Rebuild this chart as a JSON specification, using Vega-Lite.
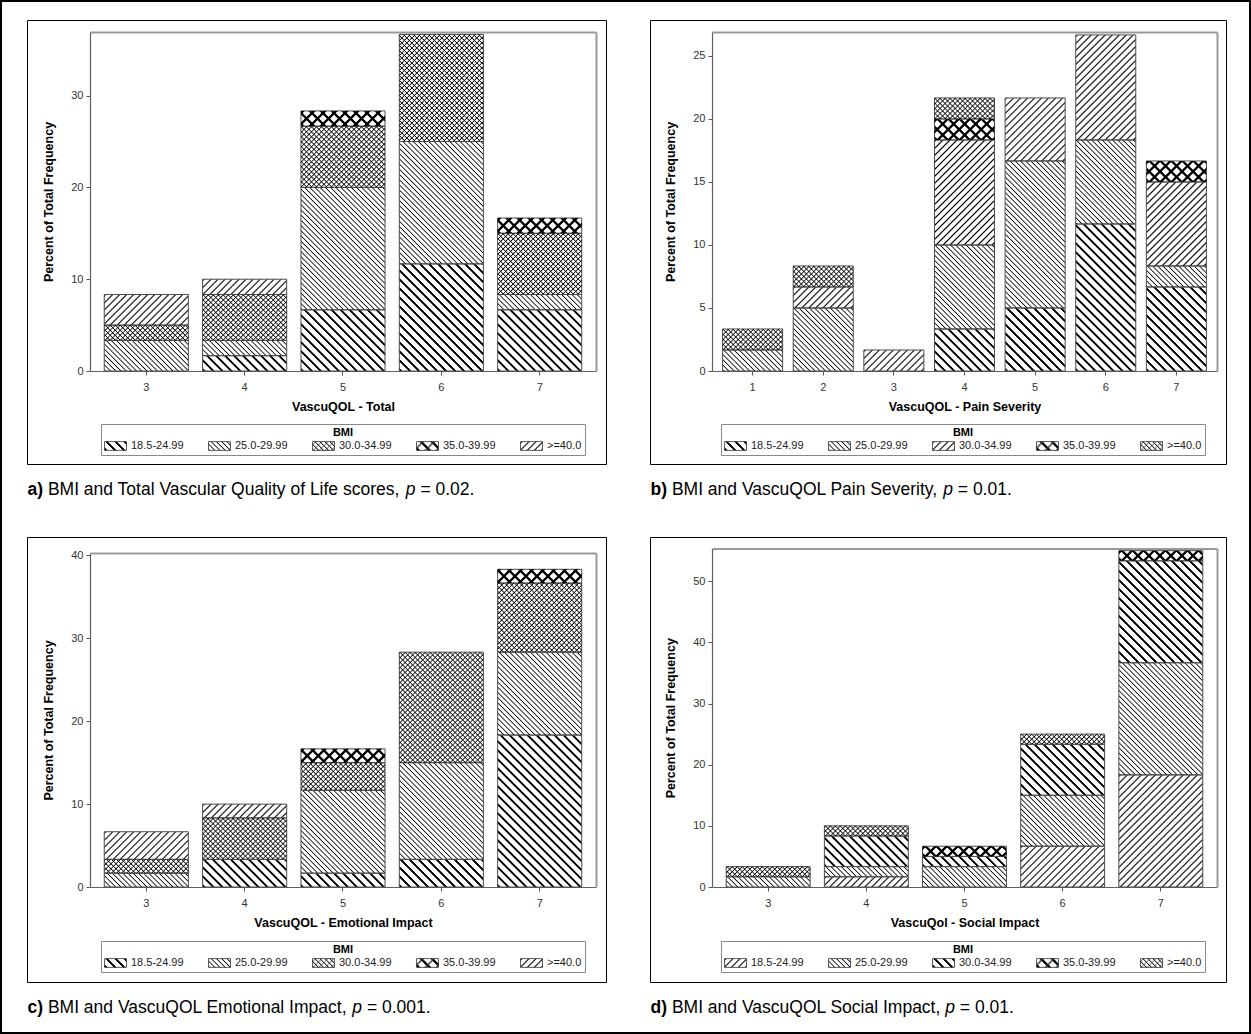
{
"$schema":"https://vega.github.io/schema/vega-lite/v6.json",
"width":1251,"height":1034,"autosize":{"type":"none"},"padding":0,"background":"white",
"view":{"stroke":"#000","strokeWidth":4},
"config":{"font":"Liberation Sans","axis":{"grid":false}},
"params":[
{"name":"ht","value":[
{"offset":0,"color":"transparent"},{"offset":0.0055,"color":"#000"},{"offset":0.011,"color":"transparent"},
{"offset":0.025,"color":"transparent"},{"offset":0.0305,"color":"#000"},{"offset":0.036,"color":"transparent"},
{"offset":0.05,"color":"transparent"},{"offset":0.0555,"color":"#000"},{"offset":0.061,"color":"transparent"},
{"offset":0.075,"color":"transparent"},{"offset":0.0805,"color":"#000"},{"offset":0.086,"color":"transparent"},
{"offset":0.1,"color":"transparent"},{"offset":0.1055,"color":"#000"},{"offset":0.111,"color":"transparent"},
{"offset":0.125,"color":"transparent"},{"offset":0.1305,"color":"#000"},{"offset":0.136,"color":"transparent"},
{"offset":0.15,"color":"transparent"},{"offset":0.1555,"color":"#000"},{"offset":0.161,"color":"transparent"},
{"offset":0.175,"color":"transparent"},{"offset":0.1805,"color":"#000"},{"offset":0.186,"color":"transparent"},
{"offset":0.2,"color":"transparent"},{"offset":0.2055,"color":"#000"},{"offset":0.211,"color":"transparent"},
{"offset":0.225,"color":"transparent"},{"offset":0.2305,"color":"#000"},{"offset":0.236,"color":"transparent"},
{"offset":0.25,"color":"transparent"},{"offset":0.2555,"color":"#000"},{"offset":0.261,"color":"transparent"},
{"offset":0.275,"color":"transparent"},{"offset":0.2805,"color":"#000"},{"offset":0.286,"color":"transparent"},
{"offset":0.3,"color":"transparent"},{"offset":0.3055,"color":"#000"},{"offset":0.311,"color":"transparent"},
{"offset":0.325,"color":"transparent"},{"offset":0.3305,"color":"#000"},{"offset":0.336,"color":"transparent"},
{"offset":0.35,"color":"transparent"},{"offset":0.3555,"color":"#000"},{"offset":0.361,"color":"transparent"},
{"offset":0.375,"color":"transparent"},{"offset":0.3805,"color":"#000"},{"offset":0.386,"color":"transparent"},
{"offset":0.4,"color":"transparent"},{"offset":0.4055,"color":"#000"},{"offset":0.411,"color":"transparent"},
{"offset":0.425,"color":"transparent"},{"offset":0.4305,"color":"#000"},{"offset":0.436,"color":"transparent"},
{"offset":0.45,"color":"transparent"},{"offset":0.4555,"color":"#000"},{"offset":0.461,"color":"transparent"},
{"offset":0.475,"color":"transparent"},{"offset":0.4805,"color":"#000"},{"offset":0.486,"color":"transparent"},
{"offset":0.5,"color":"transparent"},{"offset":0.5055,"color":"#000"},{"offset":0.511,"color":"transparent"},
{"offset":0.525,"color":"transparent"},{"offset":0.5305,"color":"#000"},{"offset":0.536,"color":"transparent"},
{"offset":0.55,"color":"transparent"},{"offset":0.5555,"color":"#000"},{"offset":0.561,"color":"transparent"},
{"offset":0.575,"color":"transparent"},{"offset":0.5805,"color":"#000"},{"offset":0.586,"color":"transparent"},
{"offset":0.6,"color":"transparent"},{"offset":0.6055,"color":"#000"},{"offset":0.611,"color":"transparent"},
{"offset":0.625,"color":"transparent"},{"offset":0.6305,"color":"#000"},{"offset":0.636,"color":"transparent"},
{"offset":0.65,"color":"transparent"},{"offset":0.6555,"color":"#000"},{"offset":0.661,"color":"transparent"},
{"offset":0.675,"color":"transparent"},{"offset":0.6805,"color":"#000"},{"offset":0.686,"color":"transparent"},
{"offset":0.7,"color":"transparent"},{"offset":0.7055,"color":"#000"},{"offset":0.711,"color":"transparent"},
{"offset":0.725,"color":"transparent"},{"offset":0.7305,"color":"#000"},{"offset":0.736,"color":"transparent"},
{"offset":0.75,"color":"transparent"},{"offset":0.7555,"color":"#000"},{"offset":0.761,"color":"transparent"},
{"offset":0.775,"color":"transparent"},{"offset":0.7805,"color":"#000"},{"offset":0.786,"color":"transparent"},
{"offset":0.8,"color":"transparent"},{"offset":0.8055,"color":"#000"},{"offset":0.811,"color":"transparent"},
{"offset":0.825,"color":"transparent"},{"offset":0.8305,"color":"#000"},{"offset":0.836,"color":"transparent"},
{"offset":0.85,"color":"transparent"},{"offset":0.8555,"color":"#000"},{"offset":0.861,"color":"transparent"},
{"offset":0.875,"color":"transparent"},{"offset":0.8805,"color":"#000"},{"offset":0.886,"color":"transparent"},
{"offset":0.9,"color":"transparent"},{"offset":0.9055,"color":"#000"},{"offset":0.911,"color":"transparent"},
{"offset":0.925,"color":"transparent"},{"offset":0.9305,"color":"#000"},{"offset":0.936,"color":"transparent"},
{"offset":0.95,"color":"transparent"},{"offset":0.9555,"color":"#000"},{"offset":0.961,"color":"transparent"},
{"offset":0.975,"color":"transparent"},{"offset":0.9805,"color":"#000"},{"offset":0.986,"color":"transparent"}
]},
{"name":"hk","value":[
{"offset":0,"color":"transparent"},{"offset":0.0025,"color":"#000"},{"offset":0.0075,"color":"#000"},{"offset":0.01,"color":"transparent"},
{"offset":0.025,"color":"transparent"},{"offset":0.0275,"color":"#000"},{"offset":0.0325,"color":"#000"},{"offset":0.035,"color":"transparent"},
{"offset":0.05,"color":"transparent"},{"offset":0.0525,"color":"#000"},{"offset":0.0575,"color":"#000"},{"offset":0.06,"color":"transparent"},
{"offset":0.075,"color":"transparent"},{"offset":0.0775,"color":"#000"},{"offset":0.0825,"color":"#000"},{"offset":0.085,"color":"transparent"},
{"offset":0.1,"color":"transparent"},{"offset":0.1025,"color":"#000"},{"offset":0.1075,"color":"#000"},{"offset":0.11,"color":"transparent"},
{"offset":0.125,"color":"transparent"},{"offset":0.1275,"color":"#000"},{"offset":0.1325,"color":"#000"},{"offset":0.135,"color":"transparent"},
{"offset":0.15,"color":"transparent"},{"offset":0.1525,"color":"#000"},{"offset":0.1575,"color":"#000"},{"offset":0.16,"color":"transparent"},
{"offset":0.175,"color":"transparent"},{"offset":0.1775,"color":"#000"},{"offset":0.1825,"color":"#000"},{"offset":0.185,"color":"transparent"},
{"offset":0.2,"color":"transparent"},{"offset":0.2025,"color":"#000"},{"offset":0.2075,"color":"#000"},{"offset":0.21,"color":"transparent"},
{"offset":0.225,"color":"transparent"},{"offset":0.2275,"color":"#000"},{"offset":0.2325,"color":"#000"},{"offset":0.235,"color":"transparent"},
{"offset":0.25,"color":"transparent"},{"offset":0.2525,"color":"#000"},{"offset":0.2575,"color":"#000"},{"offset":0.26,"color":"transparent"},
{"offset":0.275,"color":"transparent"},{"offset":0.2775,"color":"#000"},{"offset":0.2825,"color":"#000"},{"offset":0.285,"color":"transparent"},
{"offset":0.3,"color":"transparent"},{"offset":0.3025,"color":"#000"},{"offset":0.3075,"color":"#000"},{"offset":0.31,"color":"transparent"},
{"offset":0.325,"color":"transparent"},{"offset":0.3275,"color":"#000"},{"offset":0.3325,"color":"#000"},{"offset":0.335,"color":"transparent"},
{"offset":0.35,"color":"transparent"},{"offset":0.3525,"color":"#000"},{"offset":0.3575,"color":"#000"},{"offset":0.36,"color":"transparent"},
{"offset":0.375,"color":"transparent"},{"offset":0.3775,"color":"#000"},{"offset":0.3825,"color":"#000"},{"offset":0.385,"color":"transparent"},
{"offset":0.4,"color":"transparent"},{"offset":0.4025,"color":"#000"},{"offset":0.4075,"color":"#000"},{"offset":0.41,"color":"transparent"},
{"offset":0.425,"color":"transparent"},{"offset":0.4275,"color":"#000"},{"offset":0.4325,"color":"#000"},{"offset":0.435,"color":"transparent"},
{"offset":0.45,"color":"transparent"},{"offset":0.4525,"color":"#000"},{"offset":0.4575,"color":"#000"},{"offset":0.46,"color":"transparent"},
{"offset":0.475,"color":"transparent"},{"offset":0.4775,"color":"#000"},{"offset":0.4825,"color":"#000"},{"offset":0.485,"color":"transparent"},
{"offset":0.5,"color":"transparent"},{"offset":0.5025,"color":"#000"},{"offset":0.5075,"color":"#000"},{"offset":0.51,"color":"transparent"},
{"offset":0.525,"color":"transparent"},{"offset":0.5275,"color":"#000"},{"offset":0.5325,"color":"#000"},{"offset":0.535,"color":"transparent"},
{"offset":0.55,"color":"transparent"},{"offset":0.5525,"color":"#000"},{"offset":0.5575,"color":"#000"},{"offset":0.56,"color":"transparent"},
{"offset":0.575,"color":"transparent"},{"offset":0.5775,"color":"#000"},{"offset":0.5825,"color":"#000"},{"offset":0.585,"color":"transparent"},
{"offset":0.6,"color":"transparent"},{"offset":0.6025,"color":"#000"},{"offset":0.6075,"color":"#000"},{"offset":0.61,"color":"transparent"},
{"offset":0.625,"color":"transparent"},{"offset":0.6275,"color":"#000"},{"offset":0.6325,"color":"#000"},{"offset":0.635,"color":"transparent"},
{"offset":0.65,"color":"transparent"},{"offset":0.6525,"color":"#000"},{"offset":0.6575,"color":"#000"},{"offset":0.66,"color":"transparent"},
{"offset":0.675,"color":"transparent"},{"offset":0.6775,"color":"#000"},{"offset":0.6825,"color":"#000"},{"offset":0.685,"color":"transparent"},
{"offset":0.7,"color":"transparent"},{"offset":0.7025,"color":"#000"},{"offset":0.7075,"color":"#000"},{"offset":0.71,"color":"transparent"},
{"offset":0.725,"color":"transparent"},{"offset":0.7275,"color":"#000"},{"offset":0.7325,"color":"#000"},{"offset":0.735,"color":"transparent"},
{"offset":0.75,"color":"transparent"},{"offset":0.7525,"color":"#000"},{"offset":0.7575,"color":"#000"},{"offset":0.76,"color":"transparent"},
{"offset":0.775,"color":"transparent"},{"offset":0.7775,"color":"#000"},{"offset":0.7825,"color":"#000"},{"offset":0.785,"color":"transparent"},
{"offset":0.8,"color":"transparent"},{"offset":0.8025,"color":"#000"},{"offset":0.8075,"color":"#000"},{"offset":0.81,"color":"transparent"},
{"offset":0.825,"color":"transparent"},{"offset":0.8275,"color":"#000"},{"offset":0.8325,"color":"#000"},{"offset":0.835,"color":"transparent"},
{"offset":0.85,"color":"transparent"},{"offset":0.8525,"color":"#000"},{"offset":0.8575,"color":"#000"},{"offset":0.86,"color":"transparent"},
{"offset":0.875,"color":"transparent"},{"offset":0.8775,"color":"#000"},{"offset":0.8825,"color":"#000"},{"offset":0.885,"color":"transparent"},
{"offset":0.9,"color":"transparent"},{"offset":0.9025,"color":"#000"},{"offset":0.9075,"color":"#000"},{"offset":0.91,"color":"transparent"},
{"offset":0.925,"color":"transparent"},{"offset":0.9275,"color":"#000"},{"offset":0.9325,"color":"#000"},{"offset":0.935,"color":"transparent"},
{"offset":0.95,"color":"transparent"},{"offset":0.9525,"color":"#000"},{"offset":0.9575,"color":"#000"},{"offset":0.96,"color":"transparent"},
{"offset":0.975,"color":"transparent"},{"offset":0.9775,"color":"#000"},{"offset":0.9825,"color":"#000"},{"offset":0.985,"color":"transparent"}
]},
{"name":"pac","value":{"18.5-24.99":{"L":360,"b":1,"k":1},"25.0-29.99":{"L":208,"b":1,"k":0},"30.0-34.99":{"L":200,"b":1,"k":0},"35.0-39.99":{"L":440,"b":1,"k":1},">=40.0":{"L":280,"b":0,"k":0}}},
{"name":"sac","value":{"30.0-34.99":{"L":200,"k":0},"35.0-39.99":{"L":440,"k":1}}},
{"name":"pb","value":{"18.5-24.99":{"L":360,"b":1,"k":1},"25.0-29.99":{"L":208,"b":1,"k":0},"30.0-34.99":{"L":280,"b":0,"k":0},"35.0-39.99":{"L":440,"b":1,"k":1},">=40.0":{"L":200,"b":1,"k":0}}},
{"name":"sbd","value":{"35.0-39.99":{"L":440,"k":1},">=40.0":{"L":200,"k":0}}},
{"name":"pd","value":{"18.5-24.99":{"L":280,"b":0,"k":0},"25.0-29.99":{"L":208,"b":1,"k":0},"30.0-34.99":{"L":360,"b":1,"k":1},"35.0-39.99":{"L":440,"b":1,"k":1},">=40.0":{"L":200,"b":1,"k":0}}}
],
"datasets":{
"a":[
{"x":3,"BMI":"25.0-29.99","pct":3.3333},{"x":3,"BMI":"30.0-34.99","pct":1.6667},{"x":3,"BMI":">=40.0","pct":3.3333},
{"x":4,"BMI":"18.5-24.99","pct":1.6667},{"x":4,"BMI":"25.0-29.99","pct":1.6667},{"x":4,"BMI":"30.0-34.99","pct":5},{"x":4,"BMI":">=40.0","pct":1.6667},
{"x":5,"BMI":"18.5-24.99","pct":6.6667},{"x":5,"BMI":"25.0-29.99","pct":13.3333},{"x":5,"BMI":"30.0-34.99","pct":6.6667},{"x":5,"BMI":"35.0-39.99","pct":1.6667},
{"x":6,"BMI":"18.5-24.99","pct":11.6667},{"x":6,"BMI":"25.0-29.99","pct":13.3333},{"x":6,"BMI":"30.0-34.99","pct":11.6667},
{"x":7,"BMI":"18.5-24.99","pct":6.6667},{"x":7,"BMI":"25.0-29.99","pct":1.6667},{"x":7,"BMI":"30.0-34.99","pct":6.6667},{"x":7,"BMI":"35.0-39.99","pct":1.6667}
],
"b":[
{"x":1,"BMI":"25.0-29.99","pct":1.6667},{"x":1,"BMI":">=40.0","pct":1.6667},
{"x":2,"BMI":"25.0-29.99","pct":5},{"x":2,"BMI":"30.0-34.99","pct":1.6667},{"x":2,"BMI":">=40.0","pct":1.6667},
{"x":3,"BMI":"30.0-34.99","pct":1.6667},
{"x":4,"BMI":"18.5-24.99","pct":3.3333},{"x":4,"BMI":"25.0-29.99","pct":6.6667},{"x":4,"BMI":"30.0-34.99","pct":8.3333},{"x":4,"BMI":"35.0-39.99","pct":1.6667},{"x":4,"BMI":">=40.0","pct":1.6667},
{"x":5,"BMI":"18.5-24.99","pct":5},{"x":5,"BMI":"25.0-29.99","pct":11.6667},{"x":5,"BMI":"30.0-34.99","pct":5},
{"x":6,"BMI":"18.5-24.99","pct":11.6667},{"x":6,"BMI":"25.0-29.99","pct":6.6667},{"x":6,"BMI":"30.0-34.99","pct":8.3333},
{"x":7,"BMI":"18.5-24.99","pct":6.6667},{"x":7,"BMI":"25.0-29.99","pct":1.6667},{"x":7,"BMI":"30.0-34.99","pct":6.6667},{"x":7,"BMI":"35.0-39.99","pct":1.6667}
],
"c":[
{"x":3,"BMI":"25.0-29.99","pct":1.6667},{"x":3,"BMI":"30.0-34.99","pct":1.6667},{"x":3,"BMI":">=40.0","pct":3.3333},
{"x":4,"BMI":"18.5-24.99","pct":3.3333},{"x":4,"BMI":"30.0-34.99","pct":5},{"x":4,"BMI":">=40.0","pct":1.6667},
{"x":5,"BMI":"18.5-24.99","pct":1.6667},{"x":5,"BMI":"25.0-29.99","pct":10},{"x":5,"BMI":"30.0-34.99","pct":3.3333},{"x":5,"BMI":"35.0-39.99","pct":1.6667},
{"x":6,"BMI":"18.5-24.99","pct":3.3333},{"x":6,"BMI":"25.0-29.99","pct":11.6667},{"x":6,"BMI":"30.0-34.99","pct":13.3333},
{"x":7,"BMI":"18.5-24.99","pct":18.3333},{"x":7,"BMI":"25.0-29.99","pct":10},{"x":7,"BMI":"30.0-34.99","pct":8.3333},{"x":7,"BMI":"35.0-39.99","pct":1.6667}
],
"d":[
{"x":3,"BMI":"25.0-29.99","pct":1.6667},{"x":3,"BMI":">=40.0","pct":1.6667},
{"x":4,"BMI":"18.5-24.99","pct":1.6667},{"x":4,"BMI":"25.0-29.99","pct":1.6667},{"x":4,"BMI":"30.0-34.99","pct":5},{"x":4,"BMI":">=40.0","pct":1.6667},
{"x":5,"BMI":"25.0-29.99","pct":3.3333},{"x":5,"BMI":"30.0-34.99","pct":1.6667},{"x":5,"BMI":"35.0-39.99","pct":1.6667},
{"x":6,"BMI":"18.5-24.99","pct":6.6667},{"x":6,"BMI":"25.0-29.99","pct":8.3333},{"x":6,"BMI":"30.0-34.99","pct":8.3333},{"x":6,"BMI":">=40.0","pct":1.6667},
{"x":7,"BMI":"18.5-24.99","pct":18.3333},{"x":7,"BMI":"25.0-29.99","pct":18.3333},{"x":7,"BMI":"30.0-34.99","pct":16.6667},{"x":7,"BMI":"35.0-39.99","pct":1.6667}
]
},
"layer":[
{"data":{"name":"a"},
 "layer":[
  {"layer":[
    {"mark":{"type":"bar","stroke":"#4d4d4d","strokeWidth":1},
     "encoding":{
      "x":{"field":"x","type":"ordinal","scale":{"range":[90,596],"paddingInner":0.145,"paddingOuter":0.145},
           "axis":{"orient":"bottom","offset":-663,"title":"VascuQOL - Total","titleFontSize":12.5,"titleFontWeight":"bold","titleColor":"#000","titlePadding":8,"labelAngle":0,"labelFontSize":11,"labelColor":"#333","labelPadding":6,"tickSize":4,"tickColor":"#555","domainColor":"#606060","domainWidth":1.2}},
      "y":{"field":"pct","type":"quantitative","stack":"zero","scale":{"domain":[0,36.93],"range":[371,32],"nice":false},
           "axis":{"orient":"left","offset":-90,"values":[0,10,20,30],"title":"Percent of Total Frequency","titleFontSize":12.5,"titleFontWeight":"bold","titleColor":"#000","titlePadding":15,"labelFontSize":11,"labelColor":"#333","labelPadding":3,"tickSize":4,"tickColor":"#555","domainColor":"#606060","domainWidth":1.2}},
      "detail":{"field":"BMI","type":"nominal"},
      "order":{"field":"BMI","type":"nominal","sort":"ascending"},
      "fill":{"value":{"expr":"{gradient:'linear',x1:0,y1:pac[datum.BMI].b,x2:84.09*pac[datum.BMI].L/(7071.1+84.263*datum.pct*datum.pct),y2:pac[datum.BMI].b+(1-2*pac[datum.BMI].b)*9.1795*datum.pct*pac[datum.BMI].L/(7071.1+84.263*datum.pct*datum.pct),stops:pac[datum.BMI].k?hk:ht}"}}
     }},
    {"mark":{"type":"bar","strokeWidth":0},
     "encoding":{
      "x":{"field":"x","type":"ordinal","axis":{"orient":"top","offset":-32,"labels":false,"ticks":false,"title":null,"domainColor":"#999","domainWidth":2}},
      "y":{"field":"pct","type":"quantitative","stack":"zero","axis":{"orient":"right","offset":-655,"labels":false,"ticks":false,"title":null,"domainColor":"#999","domainWidth":2}},
      "detail":{"field":"BMI","type":"nominal"},
      "order":{"field":"BMI","type":"nominal","sort":"ascending"},
      "fill":{"value":{"expr":"sac[datum.BMI]?{gradient:'linear',x1:0,y1:0,x2:84.09*sac[datum.BMI].L/(7071.1+84.263*datum.pct*datum.pct),y2:9.1795*datum.pct*sac[datum.BMI].L/(7071.1+84.263*datum.pct*datum.pct),stops:sac[datum.BMI].k?hk:ht}:'transparent'"}}
     }},
    {"mark":{"type":"point","filled":true,"size":0,"opacity":1,"stroke":"#333","strokeWidth":0.8},
     "encoding":{
      "fill":{"field":"BMI","type":"nominal",
       "scale":{"domain":["18.5-24.99","25.0-29.99","30.0-34.99","35.0-39.99",">=40.0"],
         "range":[{"expr":"{gradient:'linear',x1:0,y1:1,x2:14.107,y2:-4.643,stops:hk}"},{"expr":"{gradient:'linear',x1:0,y1:1,x2:8.15,y2:-2.26,stops:ht}"},{"expr":"{gradient:'linear',x1:0,y1:1,x2:7.837,y2:-2.135,stops:ht}"},{"expr":"{gradient:'linear',x1:0,y1:1,x2:17.241,y2:-5.897,stops:hk}"},{"expr":"{gradient:'linear',x1:0,y1:0,x2:10.972,y2:4.389,stops:ht}"}]},
       "legend":{"orient":"none","legendX":101,"legendY":424,"direction":"horizontal","title":"BMI","titleAnchor":"middle","titleFontSize":11,"titleFontWeight":"bold","titleColor":"#000","titlePadding":2,"labelFontSize":11,"labelColor":"#222","labelOffset":15,"columnPadding":22,"symbolSize":121,"symbolStrokeColor":"#333","symbolStrokeWidth":0.8,"symbolOpacity":1,"strokeColor":"#888","padding":3}},
      "shape":{"field":"BMI","type":"nominal",
       "scale":{"domain":["18.5-24.99","25.0-29.99","30.0-34.99","35.0-39.99",">=40.0"],
         "range":["M-1,-0.8H3V0.8H-1Z","M-1,-0.8H3V0.8H-1Z","M-1,-0.8H3V0.8H-1ZM-1,-0.2L-0.4,-0.8M-0.9,0.8L0.7,-0.8M0.2,0.8L1.8,-0.8M1.3,0.8L2.9,-0.8M2.4,0.8L3,0.2","M-1,-0.8H3V0.8H-1ZM-1,0.25L0.05,-0.8M-1,0.4L0.2,-0.8M-1,0.55L0.35,-0.8M0.45,0.8L2.05,-0.8M0.6,0.8L2.2,-0.8M0.75,0.8L2.35,-0.8M2.45,0.8L3,0.25M2.6,0.8L3,0.4M2.75,0.8L3,0.55","M-1,-0.8H3V0.8H-1Z"]}}
     }}
   ],
   "resolve":{"axis":{"x":"independent","y":"independent"}}},
  {"layer":[
    {"mark":{"type":"point","size":0,"opacity":0},
     "encoding":{
      "x":{"datum":0,"type":"quantitative","scale":{"domain":[0,1],"range":[27,606],"nice":false,"zero":false},
           "axis":{"orient":"bottom","offset":-570,"labels":false,"ticks":false,"domainColor":"#000","domainWidth":1,"title":"a)","titleX":27,"titleY":30,"titleAlign":"left","titleBaseline":"alphabetic","titleFontSize":17.5,"titleFontWeight":"bold","titleColor":"#000"}},
      "y":{"datum":0,"type":"quantitative","scale":{"domain":[0,1],"range":[464,20],"nice":false,"zero":false},
           "axis":{"orient":"left","offset":-27,"labels":false,"ticks":false,"domainColor":"#000","domainWidth":1,"title":"p","titleAngle":0,"titleX":378.3,"titleY":494,"titleAlign":"left","titleBaseline":"alphabetic","titleFontSize":17.5,"titleFontWeight":"normal","titleFontStyle":"italic","titleColor":"#000"}}}},
    {"mark":{"type":"point","size":0,"opacity":0},
     "encoding":{
      "x":{"datum":0,"type":"quantitative","axis":{"orient":"top","offset":-20,"labels":false,"ticks":false,"domainColor":"#000","domainWidth":1,"title":"BMI and Total Vascular Quality of Life scores,","titleX":47.4,"titleY":474,"titleAlign":"left","titleBaseline":"alphabetic","titleFontSize":17.5,"titleFontWeight":"normal","titleColor":"#000"}},
      "y":{"datum":0,"type":"quantitative","axis":{"orient":"right","offset":-645,"labels":false,"ticks":false,"domainColor":"#000","domainWidth":1,"title":"= 0.02.","titleAngle":0,"titleX":-186.1,"titleY":494,"titleAlign":"left","titleBaseline":"alphabetic","titleFontSize":17.5,"titleFontWeight":"normal","titleColor":"#000"}}}}
   ],
   "resolve":{"axis":{"x":"independent","y":"independent"}}}
 ],
 "resolve":{"scale":{"x":"independent","y":"independent"},"axis":{"x":"independent","y":"independent"}}},

{"data":{"name":"b"},
 "layer":[
  {"layer":[
    {"mark":{"type":"bar","stroke":"#4d4d4d","strokeWidth":1},
     "encoding":{
      "x":{"field":"x","type":"ordinal","scale":{"range":[712,1217],"paddingInner":0.15,"paddingOuter":0.15},
           "axis":{"orient":"bottom","offset":-663,"title":"VascuQOL - Pain Severity","titleFontSize":12.5,"titleFontWeight":"bold","titleColor":"#000","titlePadding":8,"labelAngle":0,"labelFontSize":11,"labelColor":"#333","labelPadding":6,"tickSize":4,"tickColor":"#555","domainColor":"#606060","domainWidth":1.2}},
      "y":{"field":"pct","type":"quantitative","stack":"zero","scale":{"domain":[0,26.9],"range":[371,32],"nice":false},
           "axis":{"orient":"left","offset":-712,"values":[0,5,10,15,20,25],"title":"Percent of Total Frequency","titleFontSize":12.5,"titleFontWeight":"bold","titleColor":"#000","titlePadding":15,"labelFontSize":11,"labelColor":"#333","labelPadding":3,"tickSize":4,"tickColor":"#555","domainColor":"#606060","domainWidth":1.2}},
      "detail":{"field":"BMI","type":"nominal"},
      "order":{"field":"BMI","type":"nominal","sort":"ascending"},
      "fill":{"value":{"expr":"{gradient:'linear',x1:0,y1:pb[datum.BMI].b,x2:60.035*pb[datum.BMI].L/(3604.2+158.815*datum.pct*datum.pct),y2:pb[datum.BMI].b+(1-2*pb[datum.BMI].b)*12.6022*datum.pct*pb[datum.BMI].L/(3604.2+158.815*datum.pct*datum.pct),stops:pb[datum.BMI].k?hk:ht}"}}
     }},
    {"mark":{"type":"bar","strokeWidth":0},
     "encoding":{
      "x":{"field":"x","type":"ordinal","axis":{"orient":"top","offset":-32,"labels":false,"ticks":false,"title":null,"domainColor":"#999","domainWidth":2}},
      "y":{"field":"pct","type":"quantitative","stack":"zero","axis":{"orient":"right","offset":-34,"labels":false,"ticks":false,"title":null,"domainColor":"#999","domainWidth":2}},
      "detail":{"field":"BMI","type":"nominal"},
      "order":{"field":"BMI","type":"nominal","sort":"ascending"},
      "fill":{"value":{"expr":"sbd[datum.BMI]?{gradient:'linear',x1:0,y1:0,x2:60.035*sbd[datum.BMI].L/(3604.2+158.815*datum.pct*datum.pct),y2:12.6022*datum.pct*sbd[datum.BMI].L/(3604.2+158.815*datum.pct*datum.pct),stops:sbd[datum.BMI].k?hk:ht}:'transparent'"}}
     }},
    {"mark":{"type":"point","filled":true,"size":0,"opacity":1,"stroke":"#333","strokeWidth":0.8},
     "encoding":{
      "fill":{"field":"BMI","type":"nominal",
       "scale":{"domain":["18.5-24.99","25.0-29.99","30.0-34.99","35.0-39.99",">=40.0"],
         "range":[{"expr":"{gradient:'linear',x1:0,y1:1,x2:14.107,y2:-4.643,stops:hk}"},{"expr":"{gradient:'linear',x1:0,y1:1,x2:8.15,y2:-2.26,stops:ht}"},{"expr":"{gradient:'linear',x1:0,y1:0,x2:10.972,y2:4.389,stops:ht}"},{"expr":"{gradient:'linear',x1:0,y1:1,x2:17.241,y2:-5.897,stops:hk}"},{"expr":"{gradient:'linear',x1:0,y1:1,x2:7.837,y2:-2.135,stops:ht}"}]},
       "legend":{"orient":"none","legendX":721,"legendY":424,"direction":"horizontal","title":"BMI","titleAnchor":"middle","titleFontSize":11,"titleFontWeight":"bold","titleColor":"#000","titlePadding":2,"labelFontSize":11,"labelColor":"#222","labelOffset":15,"columnPadding":22,"symbolSize":121,"symbolStrokeColor":"#333","symbolStrokeWidth":0.8,"symbolOpacity":1,"strokeColor":"#888","padding":3}},
      "shape":{"field":"BMI","type":"nominal",
       "scale":{"domain":["18.5-24.99","25.0-29.99","30.0-34.99","35.0-39.99",">=40.0"],
         "range":["M-1,-0.8H3V0.8H-1Z","M-1,-0.8H3V0.8H-1Z","M-1,-0.8H3V0.8H-1Z","M-1,-0.8H3V0.8H-1ZM-1,0.25L0.05,-0.8M-1,0.4L0.2,-0.8M-1,0.55L0.35,-0.8M0.45,0.8L2.05,-0.8M0.6,0.8L2.2,-0.8M0.75,0.8L2.35,-0.8M2.45,0.8L3,0.25M2.6,0.8L3,0.4M2.75,0.8L3,0.55","M-1,-0.8H3V0.8H-1ZM-1,-0.2L-0.4,-0.8M-0.9,0.8L0.7,-0.8M0.2,0.8L1.8,-0.8M1.3,0.8L2.9,-0.8M2.4,0.8L3,0.2"]}}
     }}
   ],
   "resolve":{"axis":{"x":"independent","y":"independent"}}},
  {"layer":[
    {"mark":{"type":"point","size":0,"opacity":0},
     "encoding":{
      "x":{"datum":0,"type":"quantitative","scale":{"domain":[0,1],"range":[650,1226],"nice":false,"zero":false},
           "axis":{"orient":"bottom","offset":-570,"labels":false,"ticks":false,"domainColor":"#000","domainWidth":1,"title":"b)","titleX":650,"titleY":30,"titleAlign":"left","titleBaseline":"alphabetic","titleFontSize":17.5,"titleFontWeight":"bold","titleColor":"#000"}},
      "y":{"datum":0,"type":"quantitative","scale":{"domain":[0,1],"range":[464,20],"nice":false,"zero":false},
           "axis":{"orient":"left","offset":-650,"labels":false,"ticks":false,"domainColor":"#000","domainWidth":1,"title":"p","titleAngle":0,"titleX":292.7,"titleY":494,"titleAlign":"left","titleBaseline":"alphabetic","titleFontSize":17.5,"titleFontWeight":"normal","titleFontStyle":"italic","titleColor":"#000"}}}},
    {"mark":{"type":"point","size":0,"opacity":0},
     "encoding":{
      "x":{"datum":0,"type":"quantitative","axis":{"orient":"top","offset":-20,"labels":false,"ticks":false,"domainColor":"#000","domainWidth":1,"title":"BMI and VascuQOL Pain Severity,","titleX":671.4,"titleY":474,"titleAlign":"left","titleBaseline":"alphabetic","titleFontSize":17.5,"titleFontWeight":"normal","titleColor":"#000"}},
      "y":{"datum":0,"type":"quantitative","axis":{"orient":"right","offset":-25,"labels":false,"ticks":false,"domainColor":"#000","domainWidth":1,"title":"= 0.01.","titleAngle":0,"titleX":-268.7,"titleY":494,"titleAlign":"left","titleBaseline":"alphabetic","titleFontSize":17.5,"titleFontWeight":"normal","titleColor":"#000"}}}}
   ],
   "resolve":{"axis":{"x":"independent","y":"independent"}}}
 ],
 "resolve":{"scale":{"x":"independent","y":"independent"},"axis":{"x":"independent","y":"independent"}}},

{"data":{"name":"c"},
 "layer":[
  {"layer":[
    {"mark":{"type":"bar","stroke":"#4d4d4d","strokeWidth":1},
     "encoding":{
      "x":{"field":"x","type":"ordinal","scale":{"range":[90,596],"paddingInner":0.145,"paddingOuter":0.145},
           "axis":{"orient":"bottom","offset":-147,"title":"VascuQOL - Emotional Impact","titleFontSize":12.5,"titleFontWeight":"bold","titleColor":"#000","titlePadding":8,"labelAngle":0,"labelFontSize":11,"labelColor":"#333","labelPadding":6,"tickSize":4,"tickColor":"#555","domainColor":"#606060","domainWidth":1.2}},
      "y":{"field":"pct","type":"quantitative","stack":"zero","scale":{"domain":[0,40.3],"range":[887,553],"nice":false},
           "axis":{"orient":"left","offset":-90,"values":[0,10,20,30,40],"title":"Percent of Total Frequency","titleFontSize":12.5,"titleFontWeight":"bold","titleColor":"#000","titlePadding":15,"labelFontSize":11,"labelColor":"#333","labelPadding":3,"tickSize":4,"tickColor":"#555","domainColor":"#606060","domainWidth":1.2}},
      "detail":{"field":"BMI","type":"nominal"},
      "order":{"field":"BMI","type":"nominal","sort":"ascending"},
      "fill":{"value":{"expr":"{gradient:'linear',x1:0,y1:pac[datum.BMI].b,x2:84.09*pac[datum.BMI].L/(7071.1+68.688*datum.pct*datum.pct),y2:pac[datum.BMI].b+(1-2*pac[datum.BMI].b)*8.28784*datum.pct*pac[datum.BMI].L/(7071.1+68.688*datum.pct*datum.pct),stops:pac[datum.BMI].k?hk:ht}"}}
     }},
    {"mark":{"type":"bar","strokeWidth":0},
     "encoding":{
      "x":{"field":"x","type":"ordinal","axis":{"orient":"top","offset":-553,"labels":false,"ticks":false,"title":null,"domainColor":"#999","domainWidth":2}},
      "y":{"field":"pct","type":"quantitative","stack":"zero","axis":{"orient":"right","offset":-655,"labels":false,"ticks":false,"title":null,"domainColor":"#999","domainWidth":2}},
      "detail":{"field":"BMI","type":"nominal"},
      "order":{"field":"BMI","type":"nominal","sort":"ascending"},
      "fill":{"value":{"expr":"sac[datum.BMI]?{gradient:'linear',x1:0,y1:0,x2:84.09*sac[datum.BMI].L/(7071.1+68.688*datum.pct*datum.pct),y2:8.28784*datum.pct*sac[datum.BMI].L/(7071.1+68.688*datum.pct*datum.pct),stops:sac[datum.BMI].k?hk:ht}:'transparent'"}}
     }},
    {"mark":{"type":"point","filled":true,"size":0,"opacity":1,"stroke":"#333","strokeWidth":0.8},
     "encoding":{
      "fill":{"field":"BMI","type":"nominal",
       "scale":{"domain":["18.5-24.99","25.0-29.99","30.0-34.99","35.0-39.99",">=40.0"],
         "range":[{"expr":"{gradient:'linear',x1:0,y1:1,x2:14.107,y2:-4.643,stops:hk}"},{"expr":"{gradient:'linear',x1:0,y1:1,x2:8.15,y2:-2.26,stops:ht}"},{"expr":"{gradient:'linear',x1:0,y1:1,x2:7.837,y2:-2.135,stops:ht}"},{"expr":"{gradient:'linear',x1:0,y1:1,x2:17.241,y2:-5.897,stops:hk}"},{"expr":"{gradient:'linear',x1:0,y1:0,x2:10.972,y2:4.389,stops:ht}"}]},
       "legend":{"orient":"none","legendX":101,"legendY":941,"direction":"horizontal","title":"BMI","titleAnchor":"middle","titleFontSize":11,"titleFontWeight":"bold","titleColor":"#000","titlePadding":2,"labelFontSize":11,"labelColor":"#222","labelOffset":15,"columnPadding":22,"symbolSize":121,"symbolStrokeColor":"#333","symbolStrokeWidth":0.8,"symbolOpacity":1,"strokeColor":"#888","padding":3}},
      "shape":{"field":"BMI","type":"nominal",
       "scale":{"domain":["18.5-24.99","25.0-29.99","30.0-34.99","35.0-39.99",">=40.0"],
         "range":["M-1,-0.8H3V0.8H-1Z","M-1,-0.8H3V0.8H-1Z","M-1,-0.8H3V0.8H-1ZM-1,-0.2L-0.4,-0.8M-0.9,0.8L0.7,-0.8M0.2,0.8L1.8,-0.8M1.3,0.8L2.9,-0.8M2.4,0.8L3,0.2","M-1,-0.8H3V0.8H-1ZM-1,0.25L0.05,-0.8M-1,0.4L0.2,-0.8M-1,0.55L0.35,-0.8M0.45,0.8L2.05,-0.8M0.6,0.8L2.2,-0.8M0.75,0.8L2.35,-0.8M2.45,0.8L3,0.25M2.6,0.8L3,0.4M2.75,0.8L3,0.55","M-1,-0.8H3V0.8H-1Z"]}}
     }}
   ],
   "resolve":{"axis":{"x":"independent","y":"independent"}}},
  {"layer":[
    {"mark":{"type":"point","size":0,"opacity":0},
     "encoding":{
      "x":{"datum":0,"type":"quantitative","scale":{"domain":[0,1],"range":[27,606],"nice":false,"zero":false},
           "axis":{"orient":"bottom","offset":-52,"labels":false,"ticks":false,"domainColor":"#000","domainWidth":1,"title":"c)","titleX":27,"titleY":30,"titleAlign":"left","titleBaseline":"alphabetic","titleFontSize":17.5,"titleFontWeight":"bold","titleColor":"#000"}},
      "y":{"datum":0,"type":"quantitative","scale":{"domain":[0,1],"range":[982,537],"nice":false,"zero":false},
           "axis":{"orient":"left","offset":-27,"labels":false,"ticks":false,"domainColor":"#000","domainWidth":1,"title":"p","titleAngle":0,"titleX":324.8,"titleY":1012,"titleAlign":"left","titleBaseline":"alphabetic","titleFontSize":17.5,"titleFontWeight":"normal","titleFontStyle":"italic","titleColor":"#000"}}}},
    {"mark":{"type":"point","size":0,"opacity":0},
     "encoding":{
      "x":{"datum":0,"type":"quantitative","axis":{"orient":"top","offset":-537,"labels":false,"ticks":false,"domainColor":"#000","domainWidth":1,"title":"BMI and VascuQOL Emotional Impact,","titleX":47.4,"titleY":475,"titleAlign":"left","titleBaseline":"alphabetic","titleFontSize":17.5,"titleFontWeight":"normal","titleColor":"#000"}},
      "y":{"datum":0,"type":"quantitative","axis":{"orient":"right","offset":-645,"labels":false,"ticks":false,"domainColor":"#000","domainWidth":1,"title":"= 0.001.","titleAngle":0,"titleX":-239.6,"titleY":1012,"titleAlign":"left","titleBaseline":"alphabetic","titleFontSize":17.5,"titleFontWeight":"normal","titleColor":"#000"}}}}
   ],
   "resolve":{"axis":{"x":"independent","y":"independent"}}}
 ],
 "resolve":{"scale":{"x":"independent","y":"independent"},"axis":{"x":"independent","y":"independent"}}},

{"data":{"name":"d"},
 "layer":[
  {"layer":[
    {"mark":{"type":"bar","stroke":"#4d4d4d","strokeWidth":1},
     "encoding":{
      "x":{"field":"x","type":"ordinal","scale":{"range":[712,1217],"paddingInner":0.145,"paddingOuter":0.145},
           "axis":{"orient":"bottom","offset":-147,"title":"VascuQol - Social Impact","titleFontSize":12.5,"titleFontWeight":"bold","titleColor":"#000","titlePadding":8,"labelAngle":0,"labelFontSize":11,"labelColor":"#333","labelPadding":6,"tickSize":4,"tickColor":"#555","domainColor":"#606060","domainWidth":1.2}},
      "y":{"field":"pct","type":"quantitative","stack":"zero","scale":{"domain":[0,55.35],"range":[887,548.5],"nice":false},
           "axis":{"orient":"left","offset":-712,"values":[0,10,20,30,40,50],"title":"Percent of Total Frequency","titleFontSize":12.5,"titleFontWeight":"bold","titleColor":"#000","titlePadding":15,"labelFontSize":11,"labelColor":"#333","labelPadding":3,"tickSize":4,"tickColor":"#555","domainColor":"#606060","domainWidth":1.2}},
      "detail":{"field":"BMI","type":"nominal"},
      "order":{"field":"BMI","type":"nominal","sort":"ascending"},
      "fill":{"value":{"expr":"{gradient:'linear',x1:0,y1:pd[datum.BMI].b,x2:83.92*pd[datum.BMI].L/(7042.6+37.401*datum.pct*datum.pct),y2:pd[datum.BMI].b+(1-2*pd[datum.BMI].b)*6.11563*datum.pct*pd[datum.BMI].L/(7042.6+37.401*datum.pct*datum.pct),stops:pd[datum.BMI].k?hk:ht}"}}
     }},
    {"mark":{"type":"bar","strokeWidth":0},
     "encoding":{
      "x":{"field":"x","type":"ordinal","axis":{"orient":"top","offset":-548.5,"labels":false,"ticks":false,"title":null,"domainColor":"#999","domainWidth":2}},
      "y":{"field":"pct","type":"quantitative","stack":"zero","axis":{"orient":"right","offset":-34,"labels":false,"ticks":false,"title":null,"domainColor":"#999","domainWidth":2}},
      "detail":{"field":"BMI","type":"nominal"},
      "order":{"field":"BMI","type":"nominal","sort":"ascending"},
      "fill":{"value":{"expr":"sbd[datum.BMI]?{gradient:'linear',x1:0,y1:0,x2:83.92*sbd[datum.BMI].L/(7042.6+37.401*datum.pct*datum.pct),y2:6.11563*datum.pct*sbd[datum.BMI].L/(7042.6+37.401*datum.pct*datum.pct),stops:sbd[datum.BMI].k?hk:ht}:'transparent'"}}
     }},
    {"mark":{"type":"point","filled":true,"size":0,"opacity":1,"stroke":"#333","strokeWidth":0.8},
     "encoding":{
      "fill":{"field":"BMI","type":"nominal",
       "scale":{"domain":["18.5-24.99","25.0-29.99","30.0-34.99","35.0-39.99",">=40.0"],
         "range":[{"expr":"{gradient:'linear',x1:0,y1:0,x2:10.972,y2:4.389,stops:ht}"},{"expr":"{gradient:'linear',x1:0,y1:1,x2:8.15,y2:-2.26,stops:ht}"},{"expr":"{gradient:'linear',x1:0,y1:1,x2:14.107,y2:-4.643,stops:hk}"},{"expr":"{gradient:'linear',x1:0,y1:1,x2:17.241,y2:-5.897,stops:hk}"},{"expr":"{gradient:'linear',x1:0,y1:1,x2:7.837,y2:-2.135,stops:ht}"}]},
       "legend":{"orient":"none","legendX":721,"legendY":941,"direction":"horizontal","title":"BMI","titleAnchor":"middle","titleFontSize":11,"titleFontWeight":"bold","titleColor":"#000","titlePadding":2,"labelFontSize":11,"labelColor":"#222","labelOffset":15,"columnPadding":22,"symbolSize":121,"symbolStrokeColor":"#333","symbolStrokeWidth":0.8,"symbolOpacity":1,"strokeColor":"#888","padding":3}},
      "shape":{"field":"BMI","type":"nominal",
       "scale":{"domain":["18.5-24.99","25.0-29.99","30.0-34.99","35.0-39.99",">=40.0"],
         "range":["M-1,-0.8H3V0.8H-1Z","M-1,-0.8H3V0.8H-1Z","M-1,-0.8H3V0.8H-1Z","M-1,-0.8H3V0.8H-1ZM-1,0.25L0.05,-0.8M-1,0.4L0.2,-0.8M-1,0.55L0.35,-0.8M0.45,0.8L2.05,-0.8M0.6,0.8L2.2,-0.8M0.75,0.8L2.35,-0.8M2.45,0.8L3,0.25M2.6,0.8L3,0.4M2.75,0.8L3,0.55","M-1,-0.8H3V0.8H-1ZM-1,-0.2L-0.4,-0.8M-0.9,0.8L0.7,-0.8M0.2,0.8L1.8,-0.8M1.3,0.8L2.9,-0.8M2.4,0.8L3,0.2"]}}
     }}
   ],
   "resolve":{"axis":{"x":"independent","y":"independent"}}},
  {"layer":[
    {"mark":{"type":"point","size":0,"opacity":0},
     "encoding":{
      "x":{"datum":0,"type":"quantitative","scale":{"domain":[0,1],"range":[650,1226],"nice":false,"zero":false},
           "axis":{"orient":"bottom","offset":-52,"labels":false,"ticks":false,"domainColor":"#000","domainWidth":1,"title":"d)","titleX":650,"titleY":30,"titleAlign":"left","titleBaseline":"alphabetic","titleFontSize":17.5,"titleFontWeight":"bold","titleColor":"#000"}},
      "y":{"datum":0,"type":"quantitative","scale":{"domain":[0,1],"range":[982,537],"nice":false,"zero":false},
           "axis":{"orient":"left","offset":-650,"labels":false,"ticks":false,"domainColor":"#000","domainWidth":1,"title":"p","titleAngle":0,"titleX":294.7,"titleY":1012,"titleAlign":"left","titleBaseline":"alphabetic","titleFontSize":17.5,"titleFontWeight":"normal","titleFontStyle":"italic","titleColor":"#000"}}}},
    {"mark":{"type":"point","size":0,"opacity":0},
     "encoding":{
      "x":{"datum":0,"type":"quantitative","axis":{"orient":"top","offset":-537,"labels":false,"ticks":false,"domainColor":"#000","domainWidth":1,"title":"BMI and VascuQOL Social Impact,","titleX":671.4,"titleY":475,"titleAlign":"left","titleBaseline":"alphabetic","titleFontSize":17.5,"titleFontWeight":"normal","titleColor":"#000"}},
      "y":{"datum":0,"type":"quantitative","axis":{"orient":"right","offset":-25,"labels":false,"ticks":false,"domainColor":"#000","domainWidth":1,"title":"= 0.01.","titleAngle":0,"titleX":-266.7,"titleY":1012,"titleAlign":"left","titleBaseline":"alphabetic","titleFontSize":17.5,"titleFontWeight":"normal","titleColor":"#000"}}}}
   ],
   "resolve":{"axis":{"x":"independent","y":"independent"}}}
 ],
 "resolve":{"scale":{"x":"independent","y":"independent"},"axis":{"x":"independent","y":"independent"}}}
],
"resolve":{"scale":{"x":"independent","y":"independent","fill":"independent","shape":"independent"},"axis":{"x":"independent","y":"independent"},"legend":{"fill":"independent","shape":"independent"}}
}
